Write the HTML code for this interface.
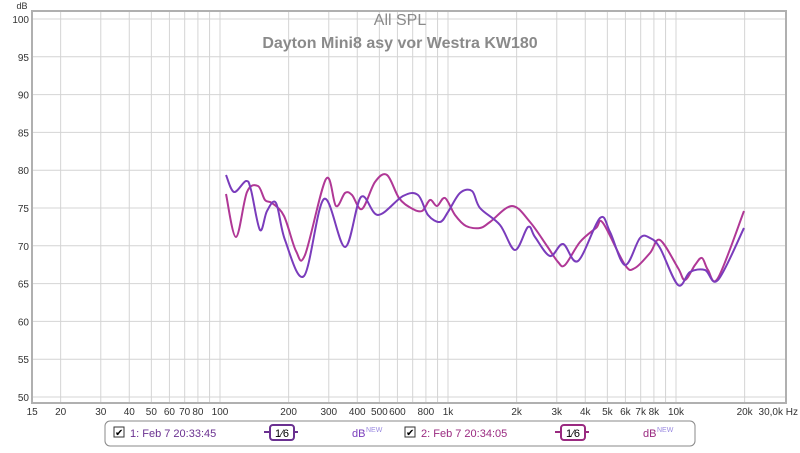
<!DOCTYPE html>
<html><head><meta charset="utf-8"><style>
body{margin:0;background:#fff;width:800px;height:448px;overflow:hidden;font-family:"Liberation Sans",Arial,sans-serif}
</style></head><body>
<svg id="s" width="800" height="448" xmlns="http://www.w3.org/2000/svg" font-family="Liberation Sans, Arial, sans-serif">
<rect x="0" y="0" width="800" height="448" fill="#fff"/>
<g id="grid" stroke="#d4d4d4" stroke-width="1"></g>
<rect x="32" y="11" width="754" height="392" fill="none" stroke="#b0b0b0" stroke-width="2"/>
<g id="labels" font-size="10" fill="#333"></g>
<text x="400" y="25" text-anchor="middle" font-size="16" fill="#8a8a8a">All SPL</text>
<text x="400" y="48" text-anchor="middle" font-size="16" font-weight="bold" fill="#8a8a8a">Dayton Mini8 asy vor Westra KW180</text>
<path id="p2" fill="none" stroke="#b03896" stroke-width="2"/>
<path id="p1" fill="none" stroke="#7a3cbc" stroke-width="2"/>
<rect x="105" y="421" width="590" height="25" rx="5" fill="#fff" stroke="#888"/>
<rect x="114" y="427" width="10" height="10" fill="#fff" stroke="#333"/>
<text x="115" y="436" font-size="10" fill="#000">✔</text>
<text x="130" y="437" font-size="11" fill="#6a3090">1: Feb 7 20:33:45</text>
<line x1="264" y1="432" x2="298" y2="432" stroke="#6a3090" stroke-width="2"/>
<rect x="270" y="425" width="24" height="15" rx="3" fill="#fff" stroke="#6a3090" stroke-width="2"/>
<text x="282" y="437" font-size="11" text-anchor="middle" fill="#000">1⁄6</text>
<text x="352" y="437" font-size="11" fill="#7a3cbc">dB</text><text x="366" y="432" font-size="7" fill="#9a8ae0">NEW</text>
<rect x="405" y="427" width="10" height="10" fill="#fff" stroke="#333"/>
<text x="406" y="436" font-size="10" fill="#000">✔</text>
<text x="421" y="437" font-size="11" fill="#9a2a80">2: Feb 7 20:34:05</text>
<line x1="555" y1="432" x2="589" y2="432" stroke="#9a2a80" stroke-width="2"/>
<rect x="561" y="425" width="24" height="15" rx="3" fill="#fff" stroke="#9a2a80" stroke-width="2"/>
<text x="573" y="437" font-size="11" text-anchor="middle" fill="#000">1⁄6</text>
<text x="643" y="437" font-size="11" fill="#9a2a80">dB</text><text x="657" y="432" font-size="7" fill="#9a8ae0">NEW</text>
</svg>
<script>
var NS="http://www.w3.org/2000/svg";
function X(f){return 220+228*Math.log10(f/100);}
function Y(d){return 19+(100-d)*7.56;}
var g=document.getElementById("grid"),L=document.getElementById("labels");
function el(p,t,a,txt){var e=document.createElementNS(NS,t);for(var k in a)e.setAttribute(k,a[k]);if(txt)e.textContent=txt;p.appendChild(e);return e;}
for(var d=50;d<=100;d+=5){el(g,"line",{x1:32,x2:786,y1:Y(d),y2:Y(d)});el(L,"text",{x:29,y:Y(d)+4,"text-anchor":"end"},""+d);}
el(L,"text",{x:22,y:9,"text-anchor":"middle","font-size":"9"},"dB");
var fs=[20,30,40,50,60,70,80,90,100,200,300,400,500,600,700,800,900,1000,2000,3000,4000,5000,6000,7000,8000,9000,10000,20000];
fs.forEach(function(f){el(g,"line",{x1:X(f),x2:X(f),y1:11,y2:403});});
var lab=[[15,"15"],[20,"20"],[30,"30"],[40,"40"],[50,"50"],[60,"60"],[70,"70"],[80,"80"],[100,"100"],[200,"200"],[300,"300"],[400,"400"],[500,"500"],[600,"600"],[800,"800"],[1000,"1k"],[2000,"2k"],[3000,"3k"],[4000,"4k"],[5000,"5k"],[6000,"6k"],[7000,"7k"],[8000,"8k"],[10000,"10k"],[20000,"20k"]];
lab.forEach(function(a){el(L,"text",{x:X(a[0]),y:415,"text-anchor":"middle"},a[1]);});
el(L,"text",{x:798,y:415,"text-anchor":"end"},"30,0k Hz");
function path(p){var s="M"+p[0][0]+","+p[0][1];for(var i=0;i<p.length-1;i++){var p0=p[Math.max(i-1,0)],p1=p[i],p2=p[i+1],p3=p[Math.min(i+2,p.length-1)];
s+=" C"+(p1[0]+(p2[0]-p0[0])/6)+","+(p1[1]+(p2[1]-p0[1])/6)+" "+(p2[0]-(p3[0]-p1[0])/6)+","+(p2[1]-(p3[1]-p1[1])/6)+" "+p2[0]+","+p2[1];}return s;}
var a=[[226,175],[234,192],[246,181],[251,190],[260,230],[267,211],[276,203],[285,240],[304,276],[324,199],[345,247],[361,197],[378,215],[403,196],[418,195],[428,215],[440,222],[448,212],[460,193],[472,191],[480,208],[500,225],[515,250],[528,227],[535,237],[550,256],[563,244],[578,261],[600,218],[610,232],[625,265],[640,238],[650,238],[660,248],[678,285],[690,272],[705,270],[718,280],[744,228]];
var b=[[226,194],[236,237],[247,192],[258,186],[265,200],[272,203],[284,216],[296,251],[305,255],[326,179],[336,206],[345,193],[352,195],[362,209],[375,182],[387,175],[399,198],[411,208],[422,211],[430,200],[437,206],[445,198],[455,215],[466,226],[480,228],[490,222],[512,206],[530,222],[547,246],[558,262],[565,265],[580,242],[596,228],[603,223],[625,265],[635,268],[650,253],[660,240],[678,268],[685,280],[695,265],[702,258],[708,270],[718,278],[744,211]];
document.getElementById("p1").setAttribute("d",path(a));
document.getElementById("p2").setAttribute("d",path(b));
</script>
</body></html>
